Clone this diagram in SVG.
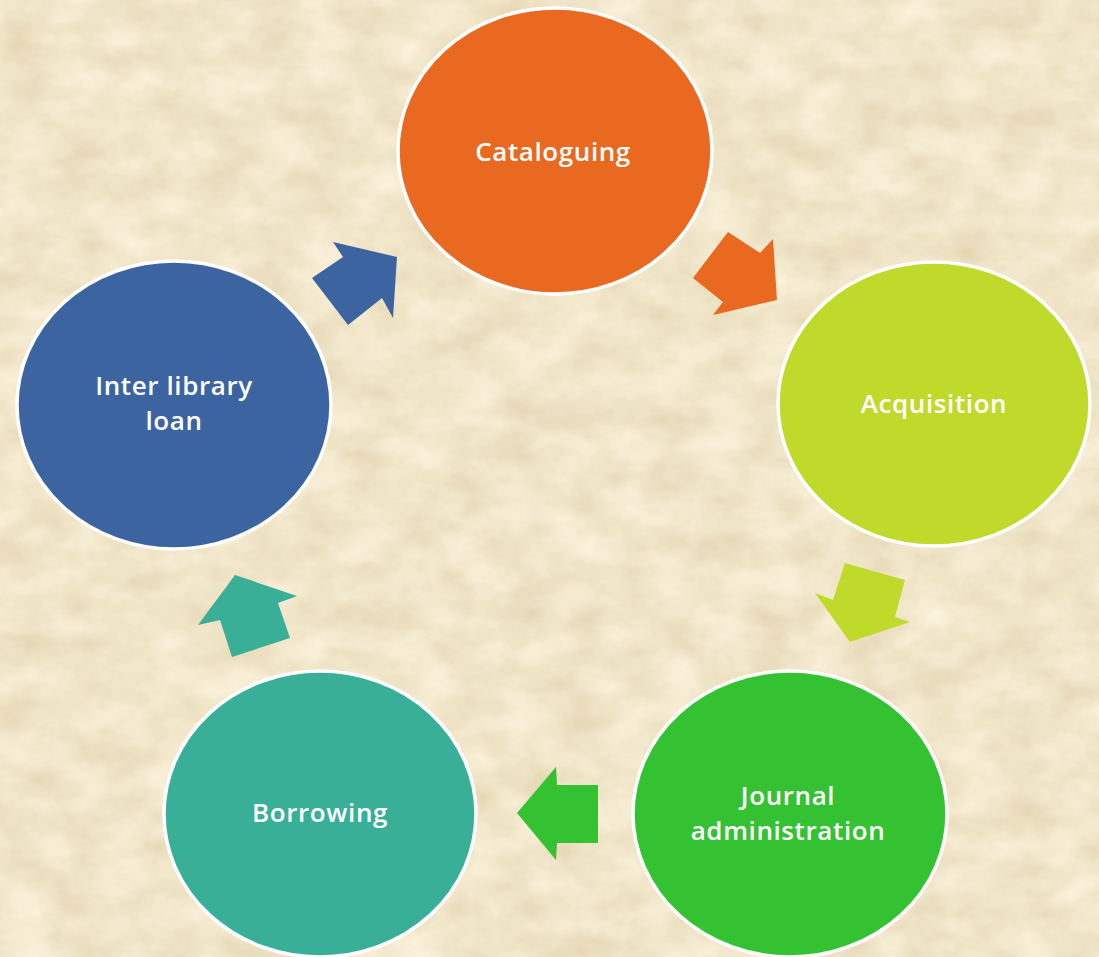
<svg xmlns="http://www.w3.org/2000/svg" width="1099" height="957" viewBox="0 0 1099 957">
<defs>
<filter id="parch" x="0" y="0" width="100%" height="100%">
<feTurbulence type="fractalNoise" baseFrequency="0.02 0.03" numOctaves="6" seed="11" result="n"/>
<feColorMatrix in="n" type="matrix" values="0 0 0 0.26 0.76  0 0 0 0.30 0.66  0 0 0 0.38 0.43  0 0 0 0 1"/>
</filter>
<style>
.node{stroke:#FFFFFF;stroke-width:3.5}
.lbl{font-family:"Open Sans","Liberation Sans",sans-serif;font-size:26px;font-weight:600;letter-spacing:0.6px;fill:#FFFFFF;text-anchor:middle}
</style>
</defs>
<rect width="1099" height="957" fill="#EAD2A2"/>
<rect width="1099" height="957" filter="url(#parch)" opacity="0.9"/>
<g id="connectors">
<polygon points="693,278 728,232 760,253 773,239 777,300 713,315 723,302" fill="#E8691F"/>
<polygon points="845,563 905,580 895,617 910,622 850,642 815,593 833,600" fill="#BFDA2A"/>
<polygon points="517,813 556,767 557,785 598,785 598,843 557,843 556,860" fill="#34C232"/>
<polygon points="235,575 297,596 278,603 290,638 232,657 220,620 198,625" fill="#3AAF97"/>
<polygon points="333,242 397,257 393,318 382,298 348,325 312,278 343,257" fill="#3C64A0"/>
</g>
<g id="cataloguing">
<ellipse class="node" cx="555" cy="151" rx="157" ry="143" fill="#E8691F"/>
<text class="lbl" x="553" y="161">Cataloguing</text>
</g>
<g id="acquisition">
<ellipse class="node" cx="934" cy="404" rx="156" ry="142" fill="#BFDA2A"/>
<text class="lbl" x="934" y="413">Acquisition</text>
</g>
<g id="journal">
<ellipse class="node" cx="790" cy="814" rx="157" ry="143" fill="#34C232"/>
<text class="lbl" x="788" y="805">Journal</text>
<text class="lbl" x="788" y="840">administration</text>
</g>
<g id="borrowing">
<ellipse class="node" cx="320" cy="814" rx="156" ry="143" fill="#3AAF97"/>
<text class="lbl" x="320" y="822">Borrowing</text>
</g>
<g id="interlibrary">
<ellipse class="node" cx="174" cy="405" rx="157" ry="144" fill="#3C64A0"/>
<text class="lbl" x="174" y="395">Inter library</text>
<text class="lbl" x="174" y="430">loan</text>
</g>
</svg>
